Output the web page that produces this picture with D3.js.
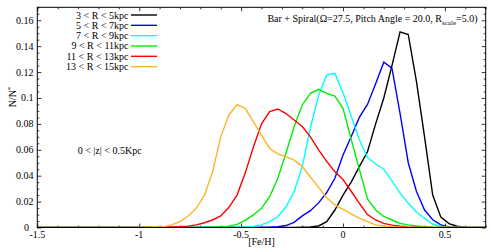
<!DOCTYPE html>
<html><head><meta charset="utf-8">
<script src="https://cdn.jsdelivr.net/npm/d3@7"></script>
<style>
html,body{margin:0;padding:0;background:#fff;}
svg{display:block;}
svg text{font-family:"Liberation Serif","Times New Roman",serif;}
</style></head>
<body>
<svg id="chart" width="491" height="252"></svg>
<script>
// [Fe/H] bin centres
const feH = [-1.52,-1.48,-1.44,-1.40,-1.36,-1.32,-1.28,-1.24,-1.20,-1.16,-1.12,-1.08,-1.04,-1.00,
  -0.96,-0.92,-0.88,-0.84,-0.80,-0.76,-0.72,-0.68,-0.64,-0.60,-0.56,-0.52,-0.48,-0.44,-0.40,
  -0.36,-0.32,-0.28,-0.24,-0.20,-0.16,-0.12,-0.08,-0.04,0.00,0.04,0.08,0.12,0.16,0.20,0.24,
  0.28,0.32,0.36,0.40,0.44,0.48,0.52,0.56,0.60,0.64,0.68,0.72];

const seriesNames = ["3 < R < 5kpc","5 < R < 7kpc","7 < R < 9kpc","9 < R < 11kpc","11 < R < 13kpc","13 < R < 15kpc"];
const seriesColors = ["#000000","#0000ff","#00ffff","#00ee00","#ff0000","#ffb428"];

const r3_5   = [0,0,0,0,0,0,0,0,0,0,0,0,0,0,
  0,0,0,0,0,0,0,0,0,0,0,0,0,0,0,0,0,0,0,0.0002,0.0005,0.0012,0.0045,0.0135,0.025,0.035,0.047,0.0585,0.080,0.100,0.125,
  0.151,0.149,0.113,0.070,0.025,0.008,0.003,0.001,0.0003,0,0,0];
const r5_7   = [0,0,0,0,0,0,0,0,0,0,0,0,0,0,
  0,0,0,0,0,0,0,0,0,0,0,0,0,0,0,0.0003,0.0007,0.0015,0.004,0.009,0.013,0.019,0.027,0.038,0.056,0.070,0.085,0.095,0.111,0.1276,0.123,
  0.088,0.050,0.028,0.0135,0.006,0.002,0.0005,0,0,0,0,0];
const r7_9   = [0,0,0,0,0,0,0,0,0,0,0,0,0,0,
  0,0,0,0,0,0,0,0,0,0,0,0.0002,0.0005,0.001,0.002,0.0045,0.0083,0.016,0.0277,0.047,0.077,0.102,0.1178,0.119,0.104,0.086,0.068,0.054,0.049,0.045,0.036,
  0.0265,0.0187,0.012,0.007,0.0027,0.0006,0.0002,0,0,0,0,0];
const r9_11  = [0,0,0,0,0,0,0,0,0,0,0,0,0,0,
  0,0,0,0,0,0,0,0,0.0003,0.0006,0.0011,0.0024,0.0055,0.0097,0.0148,0.0238,0.038,0.0573,0.0778,0.0946,0.1036,0.1067,0.1036,0.1015,0.092,0.068,0.045,0.022,0.0135,0.0085,0.0058,
  0.0032,0.002,0.0012,0.0006,0.0002,0,0,0,0,0,0,0];
const r11_13 = [0,0,0,0,0,0,0,0,0,0,0,0,0,0,
  0,0,0.0002,0.0004,0.0006,0.0011,0.002,0.0037,0.0058,0.0089,0.0156,0.025,0.042,0.062,0.080,0.0894,0.0915,0.088,0.083,0.078,0.070,0.060,0.051,0.043,0.037,0.028,0.0187,0.010,0.0058,0.0032,0.0018,
  0.001,0.0005,0.0002,0,0,0,0,0,0,0,0,0];
const r13_15 = [0,0,0,0,0,0,0,0,0,0,0,0,0,0,
  0.0002,0.0004,0.0007,0.002,0.0045,0.0089,0.0148,0.025,0.043,0.070,0.0869,0.0948,0.092,0.0817,0.0714,0.061,0.0568,0.0547,0.052,0.047,0.039,0.031,0.023,0.0175,0.014,0.0105,0.007,0.0045,0.002,0.001,0.0005,
  0.0002,0,0,0,0,0,0,0,0,0,0,0];

const seriesValues = [r3_5, r5_7, r7_9, r9_11, r11_13, r13_15];

const xMajorTicks = [-1.5,-1,-0.5,0,0.5];
const xTickLabels = ["-1.5","-1","-0.5","0","0.5"];
const yMajorTicks = [0,0.02,0.04,0.06,0.08,0.1,0.12,0.14,0.16];
const yTickLabels = ["0","0.02","0.04","0.06","0.08","0.1","0.12","0.14","0.16"];

const L = 37.3, R = 485.7, T = 7.3, B = 227.5;
const x = d3.scaleLinear().domain([-1.5, 0.7]).range([L, R]);
const y = d3.scaleLinear().domain([0, 0.17]).range([B, T]);

const svg = d3.select("#chart");

svg.append("defs").append("clipPath").attr("id","clip")
  .append("rect").attr("x",L).attr("y",T).attr("width",R-L).attr("height",B-T);

const xMinor = d3.range(-15, 8).map(k => k/10).filter(v => !xMajorTicks.some(m => Math.abs(m-v) < 1e-9));
const yMinor = d3.range(0, 35).map(k => k*0.005).filter(v => !yMajorTicks.some(m => Math.abs(m-v) < 1e-9));

function xAxis(g, dir, len, vals) {
  g.call(d3.axisBottom(x).tickValues(vals).tickSize(len * dir).tickFormat(""))
   .call(s => s.select(".domain").remove())
   .call(s => s.selectAll("line").attr("stroke","#000").attr("stroke-width",0.8));
}
function yAxis(g, dir, len, vals) {
  g.call(d3.axisLeft(y).tickValues(vals).tickSize(len * dir).tickFormat(""))
   .call(s => s.select(".domain").remove())
   .call(s => s.selectAll("line").attr("stroke","#000").attr("stroke-width",0.8));
}
svg.append("g").attr("transform",`translate(0,${B})`).call(g => xAxis(g,-1,4,xMajorTicks));
svg.append("g").attr("transform",`translate(0,${B})`).call(g => xAxis(g,-1,2,xMinor));
svg.append("g").attr("transform",`translate(0,${T})`).call(g => xAxis(g,1,4,xMajorTicks));
svg.append("g").attr("transform",`translate(0,${T})`).call(g => xAxis(g,1,2,xMinor));
svg.append("g").attr("transform",`translate(${L},0)`).call(g => yAxis(g,-1,4,yMajorTicks));
svg.append("g").attr("transform",`translate(${L},0)`).call(g => yAxis(g,-1,2,yMinor));
svg.append("g").attr("transform",`translate(${R},0)`).call(g => yAxis(g,1,4,yMajorTicks));
svg.append("g").attr("transform",`translate(${R},0)`).call(g => yAxis(g,1,2,yMinor));
svg.selectAll("g text").remove();

// tick labels
svg.append("g").selectAll("text").data(xMajorTicks).join("text")
  .attr("x", d => x(d)).attr("y", 238).attr("text-anchor","middle")
  .attr("font-size",10).attr("fill","#000").text((d,i) => xTickLabels[i]);
svg.append("g").selectAll("text").data(yMajorTicks).join("text")
  .attr("x", d => d === 0 ? 29 : 33.5).attr("y", d => y(d) + (d === 0 ? 3 : 3.5)).attr("text-anchor","end")
  .attr("font-size",10).attr("fill","#000").text((d,i) => yTickLabels[i]);

// curves
const line = d3.line().x(d => x(d[0])).y(d => y(d[1]));
const gLines = svg.append("g").attr("clip-path","url(#clip)");
seriesValues.forEach((vals, si) => {
  gLines.append("path")
    .datum(feH.map((f,i) => [f, vals[i]]))
    .attr("d", line).attr("fill","none")
    .attr("stroke", seriesColors[si]).attr("stroke-width",1.4)
    .attr("stroke-linejoin","miter");
});

// frame
svg.append("rect").attr("x",L).attr("y",T).attr("width",R-L).attr("height",B-T)
  .attr("fill","none").attr("stroke","#000").attr("stroke-width",1);

// legend
const legY0 = 15, legDy = 10.33;
const leg = svg.append("g");
seriesNames.forEach((n, i) => {
  const yy = legY0 + i*legDy;
  leg.append("text").attr("x",128.5).attr("y",yy+3.5).attr("text-anchor","end")
    .attr("font-size",10).attr("fill","#000").text(n);
  leg.append("line").attr("x1",131).attr("x2",157).attr("y1",yy).attr("y2",yy)
    .attr("stroke",seriesColors[i]).attr("stroke-width",1.4);
});

// annotations
svg.append("text").attr("x",77.7).attr("y",153.5).attr("font-size",10).attr("fill","#000")
  .text("0 < |z| < 0.5Kpc");

const title = svg.append("text").attr("x",477.5).attr("y",22).attr("text-anchor","end")
  .attr("font-size",10).attr("fill","#000");
title.append("tspan").text("Bar + Spiral(Ω=27.5, Pitch Angle = 20.0, R");
title.append("tspan").attr("font-size",7).attr("dy",2.5).text("scale");
title.append("tspan").attr("dy",-2.5).text("=5.0)");

// axis titles
svg.append("text").attr("x",261.5).attr("y",244.5).attr("text-anchor","middle")
  .attr("font-size",10).attr("fill","#000").text("[Fe/H]");
const yl = svg.append("text").attr("transform","translate(16,97) rotate(-90)")
  .attr("text-anchor","middle").attr("font-size",10).attr("fill","#000");
yl.append("tspan").text("N/N");
yl.append("tspan").attr("font-size",7).attr("dy",-4).text("*");
</script>
</body></html>
